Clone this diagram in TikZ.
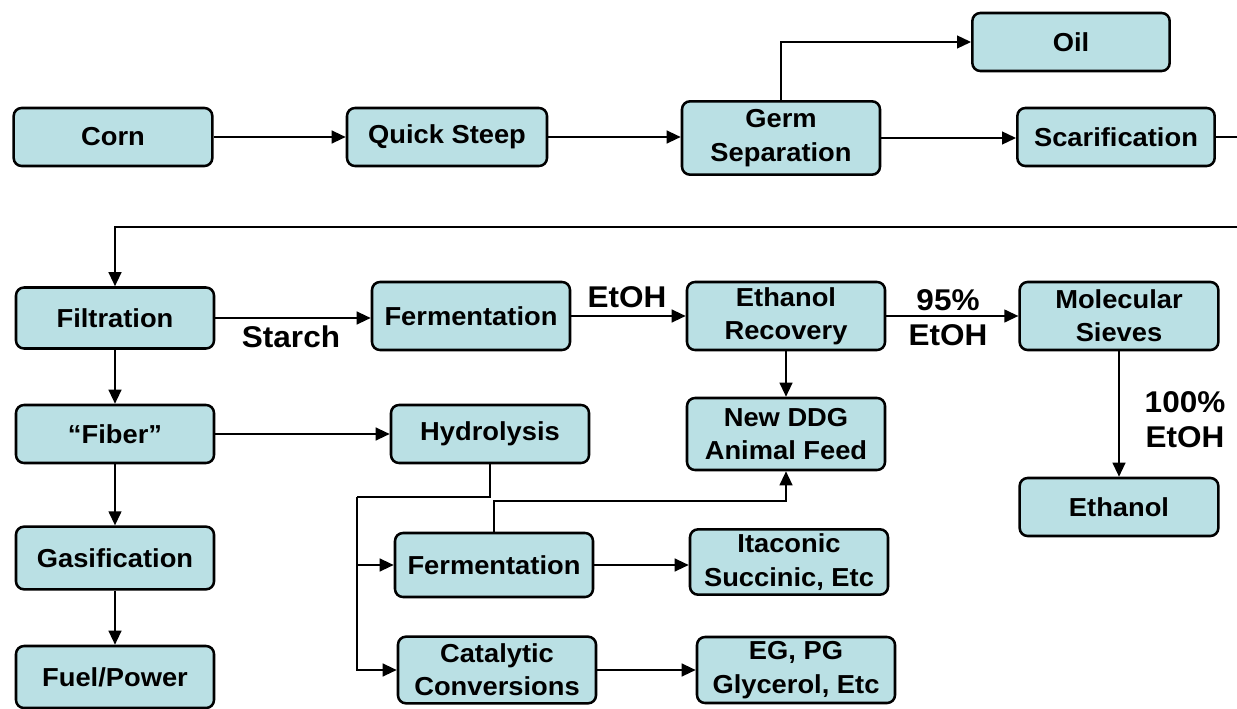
\documentclass[tikz,border=0pt]{standalone}
\usepackage{fontspec}
\setmainfont{Liberation Sans}[FakeStretch=1.05]
\usetikzlibrary{arrows.meta}
\definecolor{boxfill}{RGB}{186,224,228}
\tikzset{
  box/.style={draw=black, fill=boxfill, rounded corners=6pt, line width=1.9pt,
    font=\fontsize{19.5}{25}\selectfont\bfseries, align=center, inner sep=0pt},
  conn/.style={line width=1.6pt, draw=black},
  arr/.style={conn, -{Triangle[length=10.5pt,width=9.5pt]}},
  lbl/.style={font=\fontsize{22.5}{26}\selectfont\bfseries, align=center, inner sep=0pt}
}
\begin{document}
\begin{tikzpicture}[x=0.75pt,y=-0.75pt]
\useasboundingbox (0,0) rectangle (1237,709);
% nodes
\node[box, minimum width=149pt, minimum height=43.5pt] (corn) at (113,137) {Corn};
\node[box, minimum width=150pt, minimum height=43.5pt] (steep) at (447,137) {Quick Steep};
\node[box, minimum width=148.5pt, minimum height=55pt] (germ) at (781,138) {Germ\\Separation};
\node[box, minimum width=148pt, minimum height=43.5pt] (oil) at (1071,42) {Oil};
\node[box, minimum width=148pt, minimum height=43.5pt] (scar) at (1116,137) {Scarification};
\node[box, minimum width=148.5pt, minimum height=45.75pt] (filt) at (115,318) {Filtration};
\node[box, minimum width=148.5pt, minimum height=51pt] (ferm1) at (471,316) {Fermentation};
\node[box, minimum width=148.5pt, minimum height=51pt] (etrec) at (786,316) {Ethanol\\Recovery};
\node[box, minimum width=149pt, minimum height=51pt] (mol) at (1119,316) {Molecular\\Sieves};
\node[box, minimum width=149pt, minimum height=43.5pt] (ethanol) at (1119,507) {Ethanol};
\node[box, minimum width=148.5pt, minimum height=54pt] (ddg) at (786,434) {New DDG\\Animal Feed};
\node[box, minimum width=148.5pt, minimum height=43.5pt] (fiber) at (115,434) {“Fiber”};
\node[box, minimum width=148.5pt, minimum height=43.5pt] (hydro) at (490,434) {Hydrolysis};
\node[box, minimum width=148.5pt, minimum height=47pt] (gas) at (115,558) {Gasification};
\node[box, minimum width=148.5pt, minimum height=46.5pt] (fuel) at (115,677) {Fuel/Power};
\node[box, minimum width=148.5pt, minimum height=48pt] (ferm2) at (494,565) {Fermentation};
\node[box, minimum width=148.5pt, minimum height=49pt] (itac) at (789,562) {Itaconic\\Succinic, Etc};
\node[box, minimum width=148.5pt, minimum height=50pt] (cat) at (497,670) {Catalytic\\Conversions};
\node[box, minimum width=148.5pt, minimum height=49.5pt] (eg) at (796,670) {EG, PG\\Glycerol, Etc};
% labels
\node[lbl] (lstarch) at (291,337) {Starch};
\node[lbl] (letoh) at (627,297) {EtOH};
\node[lbl] (l95) at (948,318) {95\%\\EtOH};
\node[lbl] (l100) at (1185,420) {100\%\\EtOH};
% coordinates
\coordinate (r1) at (1237,137);
\coordinate (r2) at (1237,227);
\coordinate (j1) at (357,497);
\coordinate (j2) at (494,501);
% connectors
\draw[arr] (corn.east) -- (corn.east -| steep.west);
\draw[arr] (steep.east) -- (steep.east -| germ.west);
\draw[arr] (germ.north) |- (oil.west);
\draw[arr] (germ.east) -- (germ.east -| scar.west);
\draw[conn] (scar.east) -- (r1);
\draw[arr] (r2) -| (filt.north);
\draw[arr] (filt.east) -- (filt.east -| ferm1.west);
\draw[arr] (ferm1.east) -- (ferm1.east -| etrec.west);
\draw[arr] (etrec.east) -- (etrec.east -| mol.west);
\draw[arr] (mol.south) -- (mol.south |- ethanol.north);
\draw[arr] (etrec.south) -- (etrec.south |- ddg.north);
\draw[arr] (filt.south) -- (filt.south |- fiber.north);
\draw[arr] (fiber.south) -- (fiber.south |- gas.north);
\draw[arr] (gas.south) -- (gas.south |- fuel.north);
\draw[arr] (fiber.east) -- (fiber.east -| hydro.west);
\draw[conn] (hydro.south) |- (j1);
\draw[arr] (j1) |- (cat.west);
\draw[arr] (j1 |- ferm2.west) -- (ferm2.west);
\draw[arr] (ferm2.north) -- (j2) -| (ddg.south);
\draw[arr] (ferm2.east) -- (ferm2.east -| itac.west);
\draw[arr] (cat.east) -- (cat.east -| eg.west);
\end{tikzpicture}
\end{document}
